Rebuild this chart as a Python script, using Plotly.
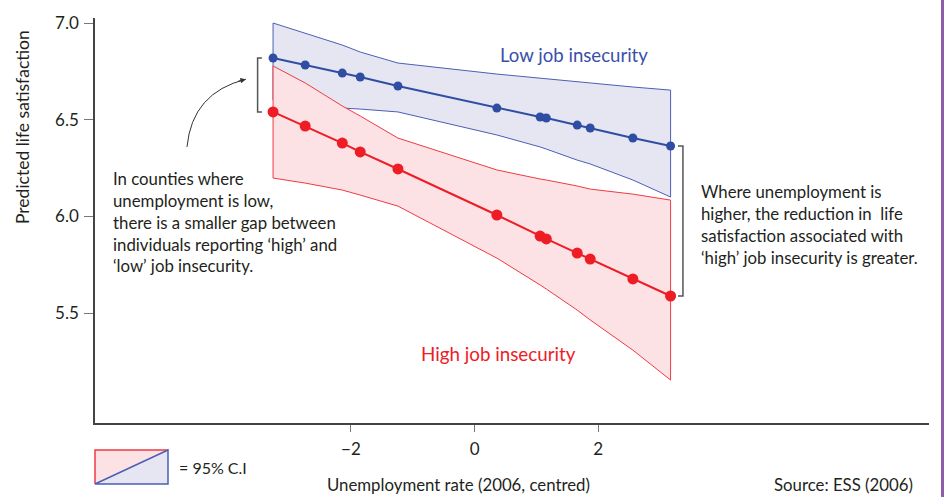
import plotly.graph_objects as go

# Centred unemployment rate of each country (2006)
unemp = [-3.26, -2.74, -2.14, -1.85, -1.24, 0.36, 1.06, 1.16, 1.66, 1.87, 2.56, 3.17]

# Predicted life satisfaction, low job insecurity
low_pred = [6.819, 6.783, 6.741, 6.721, 6.674, 6.560, 6.514, 6.509, 6.472, 6.457, 6.405, 6.364]
low_upper = [7.000, 6.948, 6.886, 6.850, 6.793, 6.736, 6.716, 6.710, 6.695, 6.690, 6.669, 6.653]
low_lower = [6.602, 6.581, 6.560, 6.555, 6.540, 6.421, 6.359, 6.348, 6.291, 6.271, 6.188, 6.100]

# Predicted life satisfaction, high job insecurity
high_pred = [6.540, 6.467, 6.379, 6.333, 6.245, 6.007, 5.898, 5.883, 5.810, 5.779, 5.676, 5.588]
high_upper = [6.778, 6.690, 6.571, 6.519, 6.405, 6.240, 6.193, 6.188, 6.157, 6.141, 6.115, 6.084]
high_lower = [6.198, 6.172, 6.136, 6.110, 6.053, 5.784, 5.645, 5.624, 5.515, 5.464, 5.308, 5.153]

x_ticks = [-2, 0, 2]
y_ticks = [5.5, 6.0, 6.5, 7.0]

BLUE = "#2f4ea3"
BLUE_EDGE = "#4b5fb6"
BLUE_FILL = "#e6e5f2"
RED = "#ee1c25"
RED_EDGE = "#ef3b42"
RED_FILL = "#fce2e4"
INK = "#231f20"
FONT = "Lato"

fig = go.Figure()


def band(lower, upper, fill, edge):
    xs = unemp + unemp[::-1] + [unemp[0]]
    ys = upper + lower[::-1] + [upper[0]]
    return go.Scatter(x=xs, y=ys, mode="lines", fill="toself", fillcolor=fill,
                      line=dict(color=edge, width=1), hoverinfo="skip", showlegend=False)


fig.add_trace(band(low_lower, low_upper, BLUE_FILL, BLUE_EDGE))
fig.add_trace(band(high_lower, high_upper, RED_FILL, RED_EDGE))

fig.add_trace(go.Scatter(x=unemp, y=low_pred, mode="lines+markers",
                         line=dict(color=BLUE, width=2), marker=dict(color=BLUE, size=9),
                         showlegend=False, name="Low job insecurity"))
fig.add_trace(go.Scatter(x=unemp, y=high_pred, mode="lines+markers",
                         line=dict(color=RED, width=2), marker=dict(color=RED, size=11),
                         showlegend=False, name="High job insecurity"))

# Brackets marking the gap at the lowest and highest unemployment rates
bl_x, bl_tip = unemp[0] - 0.25, unemp[0] - 0.18
fig.add_shape(type="path", xref="x", yref="y",
              path=f"M {bl_tip},{low_pred[0]} L {bl_x},{low_pred[0]} L {bl_x},{high_pred[0]} L {bl_tip},{high_pred[0]}",
              line=dict(color="#555555", width=1.5))
br_x, br_tip = unemp[-1] + 0.20, unemp[-1] + 0.12
fig.add_shape(type="path", xref="x", yref="y",
              path=f"M {br_tip},{low_pred[-1]} L {br_x},{low_pred[-1]} L {br_x},{high_pred[-1]} L {br_tip},{high_pred[-1]}",
              line=dict(color="#555555", width=1.5))

# Curved pointer from the left note to the left bracket
a0 = (-4.652, 6.359)
ac = (-4.57, 6.64)
a1 = (-3.70, 6.709)
fig.add_shape(type="path", xref="x", yref="y",
              path=f"M {a0[0]},{a0[1]} Q {ac[0]},{ac[1]} {a1[0]},{a1[1]}",
              line=dict(color="#333333", width=1))
fig.add_annotation(x=a1[0], y=a1[1], ax=a1[0] - 0.15, ay=a1[1] - 0.012,
                   xref="x", yref="y", axref="x", ayref="y", text="",
                   showarrow=True, arrowhead=2, arrowsize=1.1, arrowwidth=1,
                   arrowcolor="#333333", standoff=0)

fig.add_annotation(x=1.61, y=6.834, text="Low job insecurity", showarrow=False,
                   xanchor="center", yanchor="middle",
                   font=dict(family=FONT, size=18.6, color="#3a50a8"))
fig.add_annotation(x=0.39, y=5.293, text="High job insecurity", showarrow=False,
                   xanchor="center", yanchor="middle",
                   font=dict(family=FONT, size=18.8, color=RED))

fig.add_annotation(x=(111 - 95) / 834, y=(423 - 166) / 405, xref="paper", yref="paper",
                   xanchor="left", yanchor="top", align="left", showarrow=False,
                   text="In counties where<br>unemployment is low,<br>there is a smaller gap between"
                        "<br>individuals reporting ‘high’ and<br>‘low’ job insecurity.",
                   font=dict(family=FONT, size=16.8, color=INK))
fig.add_annotation(x=(699 - 95) / 834, y=(423 - 179) / 405, xref="paper", yref="paper",
                   xanchor="left", yanchor="top", align="left", showarrow=False,
                   text="Where unemployment is<br>higher, the reduction in  life"
                        "<br>satisfaction associated with<br>‘high’ job insecurity is greater.",
                   font=dict(family=FONT, size=16.8, color=INK))

# Axis titles and source line
fig.add_annotation(x=(22 - 95) / 834, y=(423 - 127) / 405, xref="paper", yref="paper",
                   xanchor="center", yanchor="middle",
                   text="Predicted life satisfaction", textangle=-90, showarrow=False,
                   font=dict(family=FONT, size=17.5, color=INK))
fig.add_annotation(x=(458 - 95) / 834, y=(423 - 485) / 405, xref="paper", yref="paper",
                   xanchor="center", yanchor="middle",
                   text="Unemployment rate (2006, centred)", showarrow=False,
                   font=dict(family=FONT, size=16.8, color=INK))
fig.add_annotation(x=(915 - 95) / 834, y=(423 - 485) / 405, xref="paper", yref="paper",
                   xanchor="right", yanchor="middle", text="Source: ESS (2006)", showarrow=False,
                   font=dict(family=FONT, size=16.8, color=INK))

# Key for the shaded confidence bands
kx0, kx1 = 0, (168 - 95) / 834
ky0, ky1 = (423 - 484) / 405, (423 - 450) / 405
fig.add_shape(type="path", xref="paper", yref="paper",
              path=f"M {kx0},{ky1} L {kx1},{ky1} L {kx0},{ky0} Z",
              fillcolor=RED_FILL, line=dict(width=0))
fig.add_shape(type="path", xref="paper", yref="paper",
              path=f"M {kx1},{ky1} L {kx1},{ky0} L {kx0},{ky0} Z",
              fillcolor=BLUE_FILL, line=dict(width=0))
fig.add_shape(type="path", xref="paper", yref="paper",
              path=f"M {kx0},{ky0} L {kx0},{ky1} L {kx1},{ky1}",
              line=dict(color=RED_EDGE, width=1.5))
fig.add_shape(type="path", xref="paper", yref="paper",
              path=f"M {kx0},{ky0} L {kx1},{ky0} L {kx1},{ky1} L {kx0},{ky0}",
              line=dict(color=BLUE_EDGE, width=1.5))
fig.add_annotation(x=(177 - 95) / 834, y=(423 - 467) / 405, xref="paper", yref="paper",
                   xanchor="left", yanchor="middle", text="= 95% C.I", showarrow=False,
                   font=dict(family=FONT, size=16, color=INK))

# Page edge stripe
fig.add_shape(type="rect", xref="paper", yref="paper",
              x0=(941 - 95) / 834, x1=(945 - 95) / 834, y0=(423 - 497) / 405, y1=(423 + 0) / 405,
              fillcolor="#8d5fa8", line=dict(width=0))

fig.update_xaxes(range=[-6.14, 7.35], tickvals=x_ticks, ticks="outside", ticklen=7,
                 tickcolor="#777777", showline=True, linecolor="#444444", linewidth=1.5,
                 showgrid=False, zeroline=False, ticklabelstandoff=3,
                 tickfont=dict(family=FONT, size=17, color=INK))
fig.update_yaxes(range=[4.931, 7.026], tickvals=y_ticks, tickformat=".1f", ticks="outside",
                 ticklen=9, tickcolor="#777777", showline=True, linecolor="#444444",
                 linewidth=1.5, showgrid=False, zeroline=False, ticklabelstandoff=2,
                 tickfont=dict(family=FONT, size=17, color=INK))

fig.update_layout(width=944, height=497, margin=dict(l=95, r=15, t=18, b=74),
                  plot_bgcolor="white", paper_bgcolor="white",
                  font=dict(family=FONT, color=INK))

fig.write_html("out.html")
